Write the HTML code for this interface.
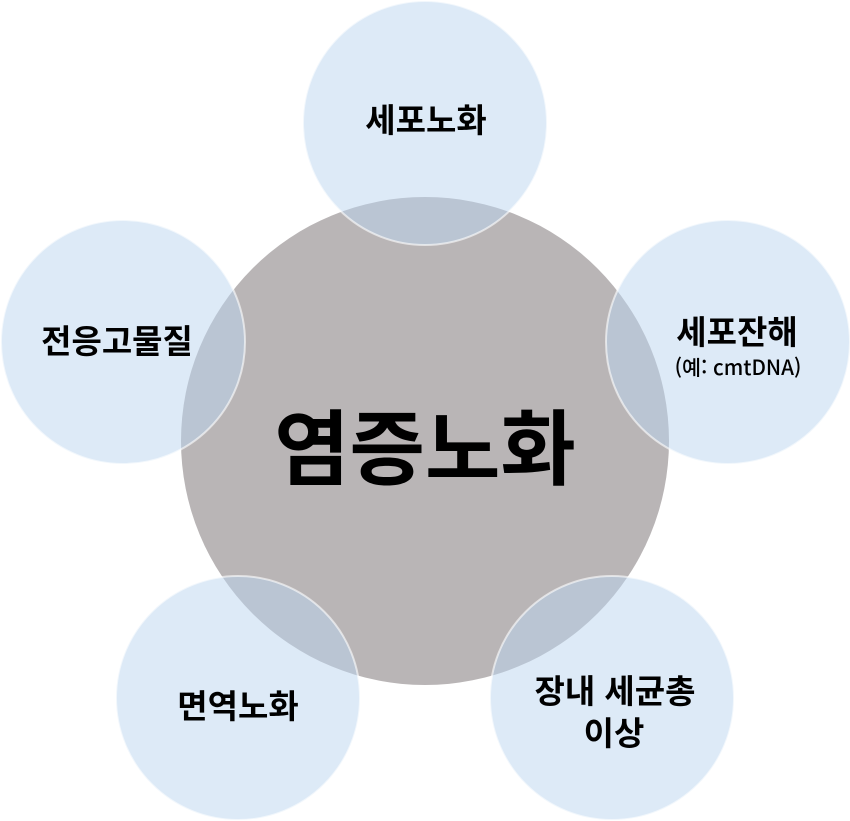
<!DOCTYPE html>
<html lang="ko">
<head>
<meta charset="utf-8">
<style>
html,body{margin:0;padding:0;background:#fff;width:850px;height:821px;overflow:hidden}
svg{display:block}
text{font-family:"Liberation Sans","Noto Sans CJK KR",sans-serif;font-weight:700;fill:#000;text-anchor:middle}
text.sub{font-family:"Noto Sans CJK KR",sans-serif;font-weight:500}
</style>
</head>
<body>
<svg width="850" height="821" viewBox="0 0 850 821" xmlns="http://www.w3.org/2000/svg">
<circle cx="425" cy="441" r="244" fill="#b9b5b6"/>
<g fill="#bcd6f0" fill-opacity="0.5" stroke="#ffffff" stroke-opacity="0.6" stroke-width="2">
<circle cx="425" cy="123" r="122"/>
<circle cx="728" cy="342" r="122"/>
<circle cx="612" cy="698" r="122"/>
<circle cx="238" cy="698" r="122"/>
<circle cx="123" cy="342" r="122"/>
</g>
<text x="425" y="478" font-size="82">염증노화</text>
<text x="426" y="132" font-size="33">세포노화</text>
<text x="737" y="344" font-size="33">세포잔해</text>
<text class="sub" x="738" y="375" font-size="20.7">(예: cmtDNA)</text>
<text x="615" y="703" font-size="33">장내 세균총</text>
<text x="614" y="745" font-size="33">이상</text>
<text x="238" y="718" font-size="33">면역노화</text>
<text x="117" y="353" font-size="33">전응고물질</text>
</svg>
</body>
</html>
